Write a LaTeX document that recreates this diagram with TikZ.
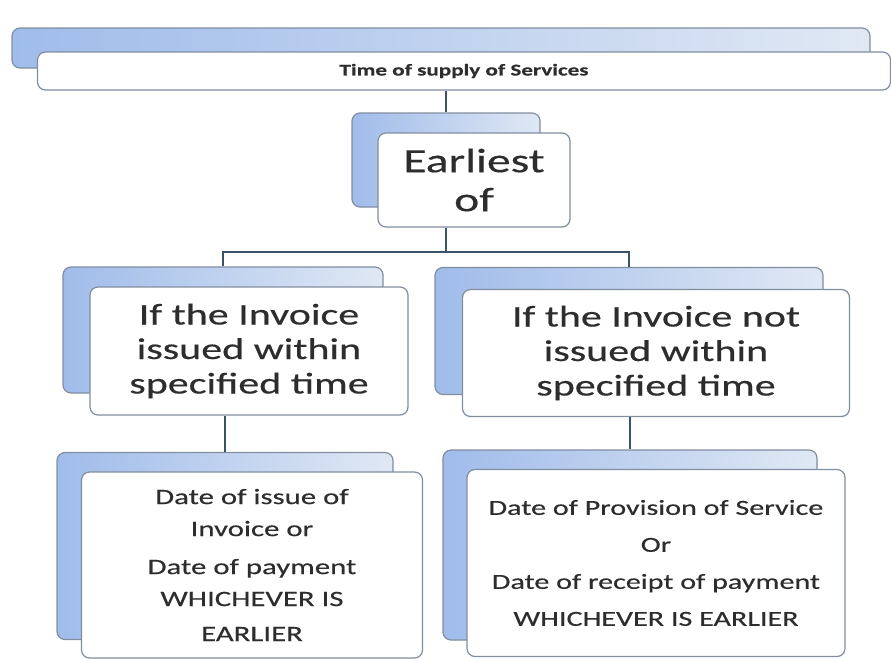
\documentclass[tikz,border=0pt]{standalone}
\usepackage{fontspec}
\setmainfont{Carlito}[FakeStretch=1.4, FakeBold=0.4]
\usepackage{xcolor}
\usetikzlibrary{positioning}

\definecolor{boxline}{RGB}{128,142,160}
\definecolor{linkline}{RGB}{60,82,102}
\definecolor{backdark}{RGB}{160,188,234}
\definecolor{backlight}{RGB}{224,232,244}
\definecolor{txt}{RGB}{45,45,45}

\begin{document}
\begin{tikzpicture}[x=1pt, y=-1pt,
    backbox/.style={rectangle, rounded corners=8pt, draw=boxline, line width=1.2pt, left color=backdark, middle color=backlight, right color=backlight, inner sep=0pt},
    frontbox/.style={rectangle, rounded corners=8pt, draw=boxline, line width=1.2pt, fill=white, align=center, text=txt, inner sep=0pt},
    link/.style={draw=linkline, line width=2.6pt}]
    \useasboundingbox (0,0) rectangle (891,659);

    \node[backbox, minimum width=858pt, minimum height=40pt] (titleback) at (441,48) {};
    \node[frontbox, minimum width=853pt, minimum height=38pt, font=\fontsize{16.5}{19}\selectfont\bfseries] (titlebox) at (464,71) {Time of supply of Services};

    \node[backbox, minimum width=188pt, minimum height=94pt] (earlyback) at (446,160) {};
    \node[frontbox, minimum width=192pt, minimum height=94pt, font=\fontsize{34}{39}\selectfont] (earlybox) at (474,180) {Earliest\\of};

    \node[backbox, minimum width=320pt, minimum height=126pt] (leftback) at (223,330) {};
    \node[frontbox, minimum width=318pt, minimum height=128pt, font=\fontsize{30}{34.5}\selectfont] (leftbox) at (249,351) {If the Invoice\\issued within\\specified time};

    \node[backbox, minimum width=388pt, minimum height=127pt] (rightback) at (629,331) {};
    \node[frontbox, minimum width=387pt, minimum height=127pt, font=\fontsize{30}{34.5}\selectfont] (rightbox) at (656,353) {If the Invoice not\\issued within\\specified time};

    \node[backbox, minimum width=336pt, minimum height=187pt] (lowleftback) at (225,546) {};
    \node[frontbox, minimum width=341pt, minimum height=186pt, font=\fontsize{22}{32}\selectfont] (lowleftbox) at (252,565) {Date of issue of\\Invoice or\\[6pt]Date of payment\\WHICHEVER IS\\[3pt]EARLIER};

    \node[backbox, minimum width=374pt, minimum height=190pt] (lowrightback) at (630,545) {};
    \node[frontbox, minimum width=378pt, minimum height=187pt, font=\fontsize{21.5}{37}\selectfont] (lowrightbox) at (656,563) {Date of Provision of Service\\Or\\Date of receipt of payment\\WHICHEVER IS EARLIER};

    \coordinate (bus) at (446,252);
    \draw[link] (earlyback.north |- titlebox.south) -- (earlyback.north);
    \draw[link] (earlyback.north |- earlybox.south) -- (bus);
    \draw[link] (leftback.north) |- (bus) -| (rightback.north);
    \draw[link] (lowleftback.north |- leftbox.south) -- (lowleftback.north);
    \draw[link] (lowrightback.north |- rightbox.south) -- (lowrightback.north);
\end{tikzpicture}
\end{document}
